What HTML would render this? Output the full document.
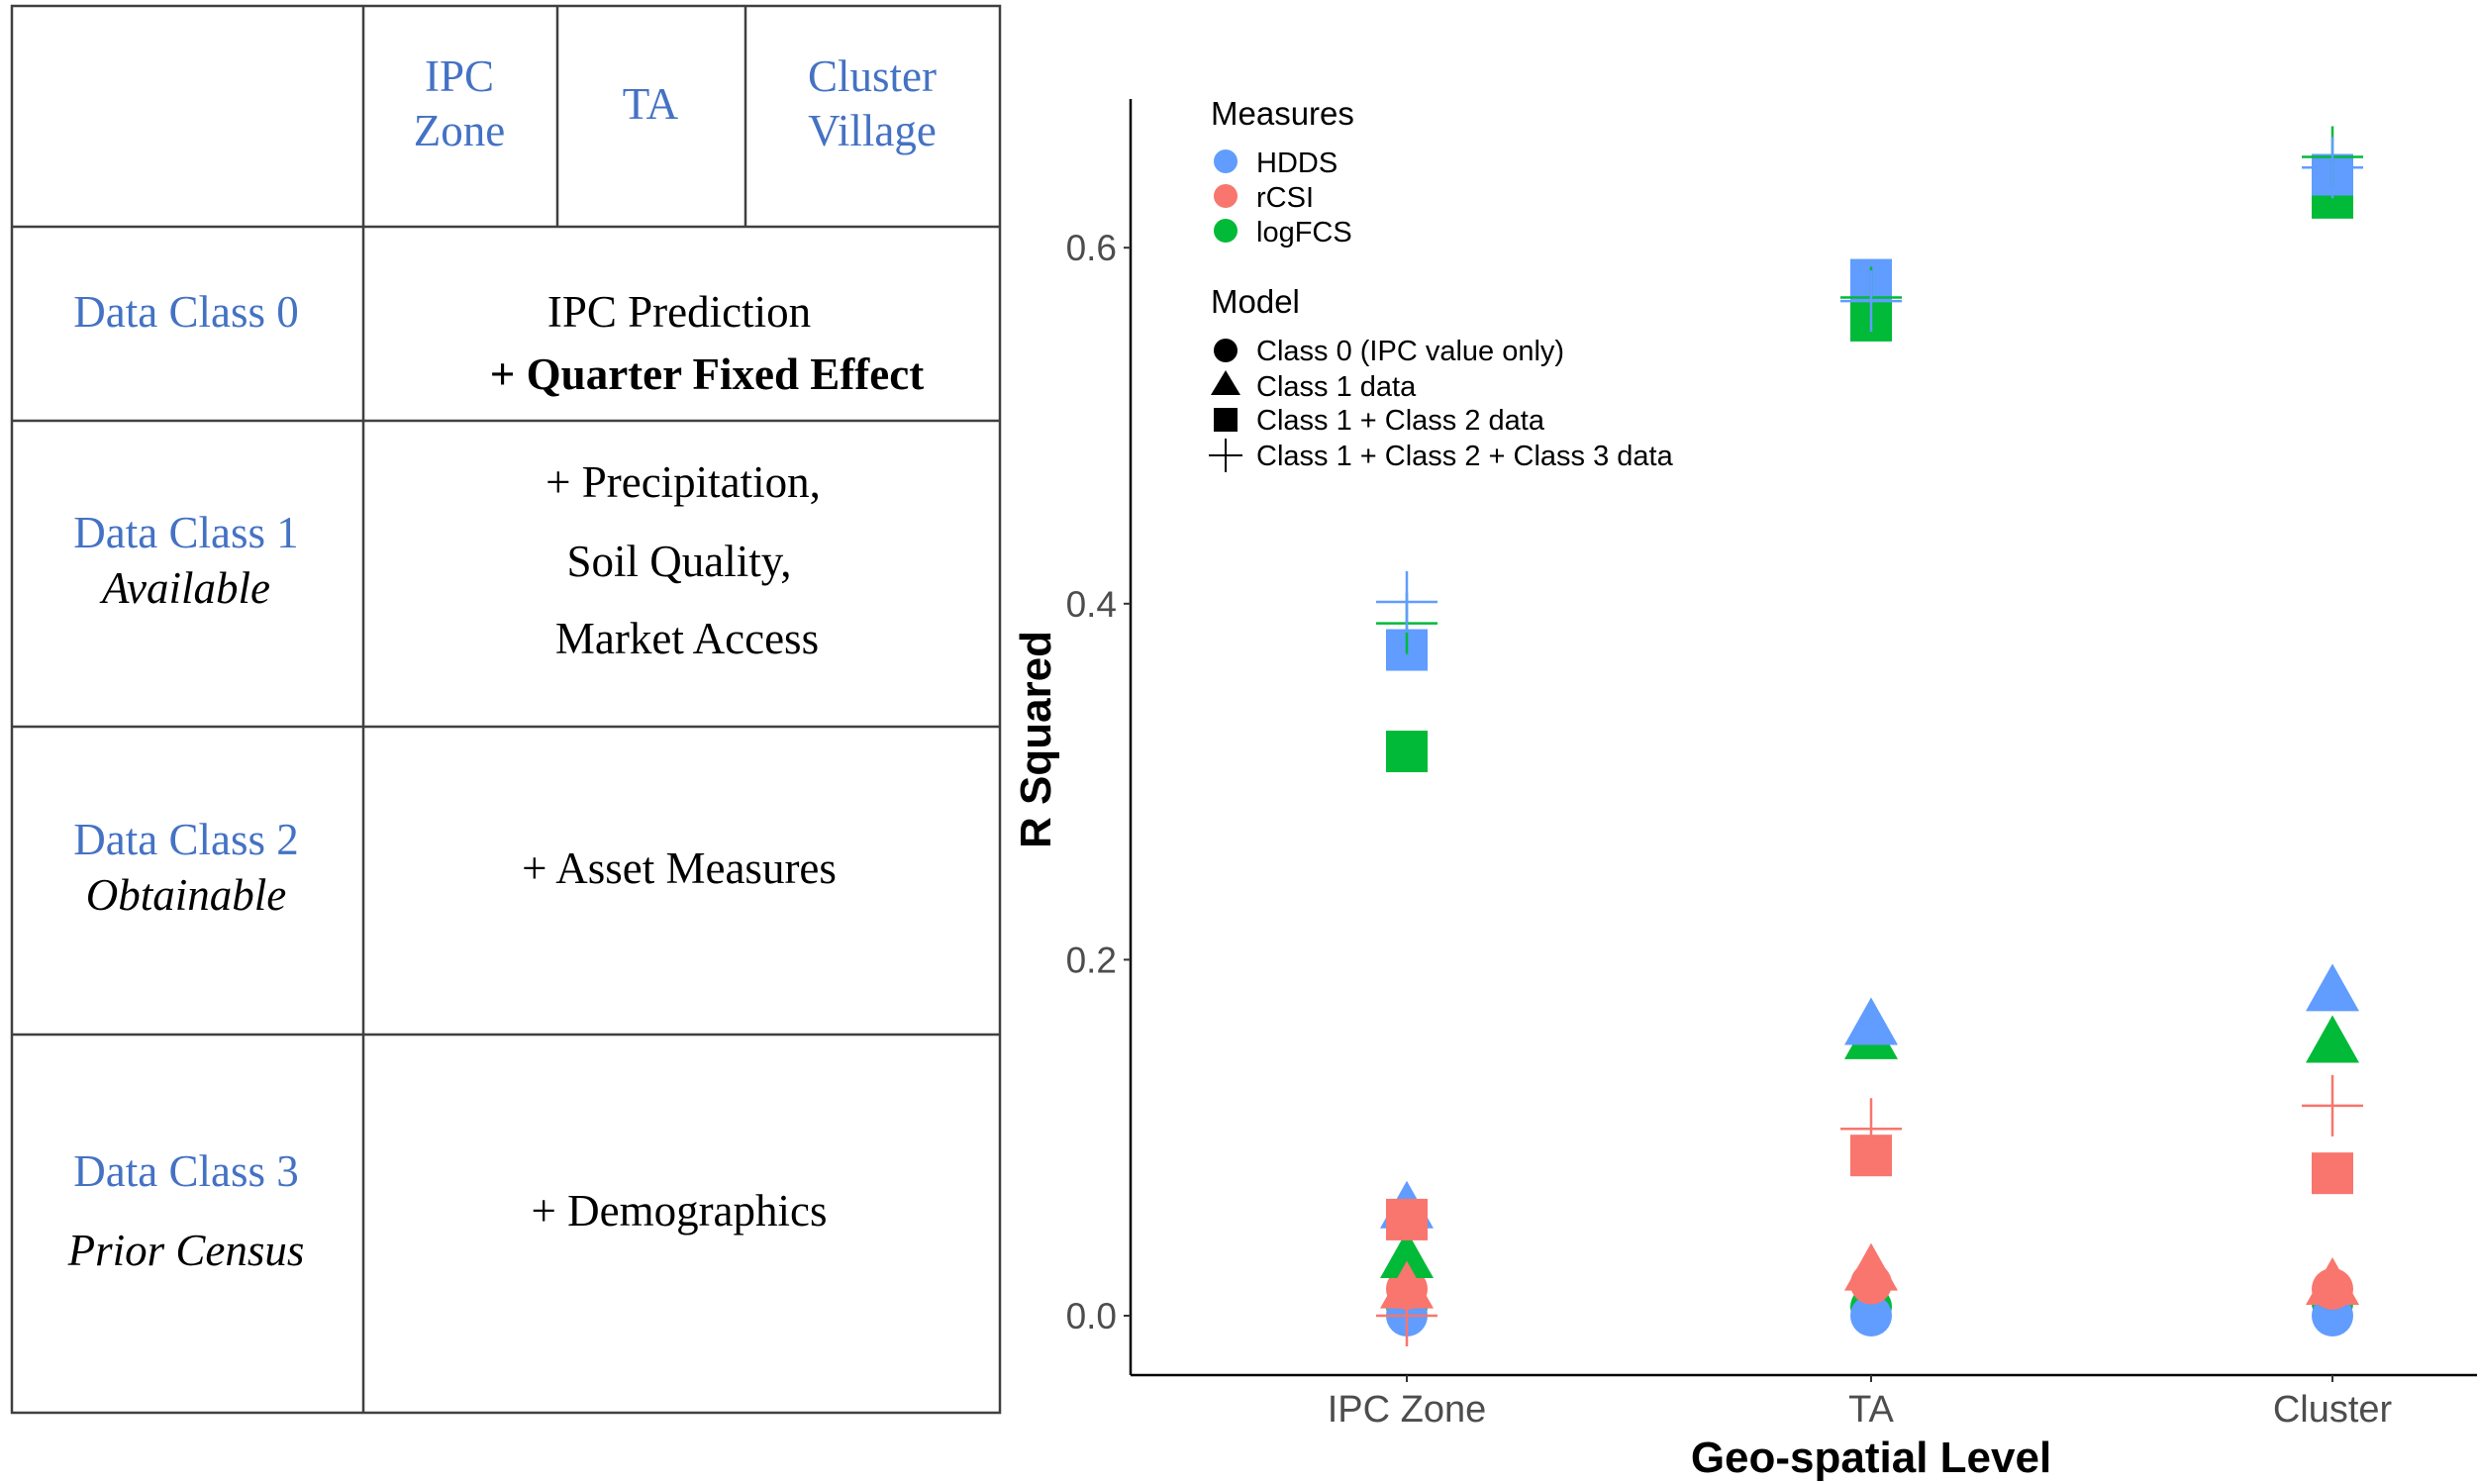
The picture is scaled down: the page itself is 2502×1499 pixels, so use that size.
<!DOCTYPE html>
<html><head><meta charset="utf-8"><style>
html,body{margin:0;padding:0;background:#fff;}
svg{display:block;}
.ser{font-family:"Liberation Serif",serif;font-size:45px;}
.blue{fill:#4472c4;}
.san{font-family:"Liberation Sans",sans-serif;}
</style></head><body>
<svg width="2502" height="1499" viewBox="0 0 2502 1499" xmlns="http://www.w3.org/2000/svg">
<g stroke="#404040" stroke-width="2.5" fill="none">
  <rect x="12" y="6" width="998" height="1421"/>
  <line x1="367" y1="6" x2="367" y2="1427"/>
  <line x1="563" y1="6" x2="563" y2="229"/>
  <line x1="753" y1="6" x2="753" y2="229"/>
  <line x1="12" y1="229" x2="1010" y2="229"/>
  <line x1="12" y1="425" x2="1010" y2="425"/>
  <line x1="12" y1="734" x2="1010" y2="734"/>
  <line x1="12" y1="1045" x2="1010" y2="1045"/>
</g>
<g class="ser" text-anchor="middle">
  <text class="blue" x="464" y="92">IPC</text>
  <text class="blue" x="464" y="147">Zone</text>
  <text class="blue" x="657" y="120">TA</text>
  <text class="blue" x="881" y="92">Cluster</text>
  <text class="blue" x="881" y="147">Village</text>
  <text class="blue" x="188" y="330">Data Class 0</text>
  <text x="686" y="330">IPC Prediction</text>
  <text x="714" y="393" font-weight="bold">+ Quarter  Fixed Effect</text>
  <text class="blue" x="188" y="553">Data Class 1</text>
  <text x="188" y="609" font-style="italic">Available</text>
  <text x="690" y="502">+ Precipitation,</text>
  <text x="686" y="582">Soil Quality,</text>
  <text x="694" y="660">Market Access</text>
  <text class="blue" x="188" y="863">Data Class 2</text>
  <text x="188" y="919" font-style="italic">Obtainable</text>
  <text x="686" y="892">+ Asset Measures</text>
  <text class="blue" x="188" y="1198">Data Class 3</text>
  <text x="188" y="1278" font-style="italic">Prior Census</text>
  <text x="686" y="1238">+ Demographics</text>
</g>
<g id="chart"></g>
</svg>
<script>
const categories = ["IPC Zone", "TA", "Cluster"];
const measures = ["logFCS", "HDDS", "rCSI"];
const models = ["circle", "triangle", "square", "cross"];
const circleHDDS = [0.0, 0.0, 0.0];
const circleLogFCS = [0.005, 0.005, 0.007];
const circleRCSI = [0.015, 0.018, 0.015];
const triHDDS = [0.058, 0.161, 0.18];
const triLogFCS = [0.03, 0.153, 0.151];
const triRCSI = [0.013, 0.023, 0.015];
const sqHDDS = [0.374, 0.582, 0.641];
const sqLogFCS = [0.317, 0.559, 0.628];
const sqRCSI = [0.054, 0.09, 0.08];
const crHDDS = [0.401, 0.570, 0.645];
const crLogFCS = [0.389, 0.572, 0.651];
const crRCSI = [0.0, 0.105, 0.118];
const yTicks = [0.0, 0.2, 0.4, 0.6];
const yTickLabels = ["0.0", "0.2", "0.4", "0.6"];

const series = {
  circle: {logFCS: circleLogFCS, HDDS: circleHDDS, rCSI: circleRCSI},
  triangle: {logFCS: triLogFCS, HDDS: triHDDS, rCSI: triRCSI},
  square: {logFCS: sqLogFCS, HDDS: sqHDDS, rCSI: sqRCSI},
  cross: {logFCS: crLogFCS, HDDS: crHDDS, rCSI: crRCSI}
};
const colors = {HDDS: "#619CFF", rCSI: "#F8766D", logFCS: "#00BA38"};
const NS = "http://www.w3.org/2000/svg";
const g = document.getElementById("chart");
const X0 = 1142, XB = 1389, YTOP = 100;
function yScale(v){ return 1329 - v * 1798; }
function xScale(i){ return [1421, 1890, 2356][i]; }
function mk(tag, attrs, parent){
  const e = document.createElementNS(NS, tag);
  for (const k in attrs) e.setAttribute(k, attrs[k]);
  (parent || g).appendChild(e);
  return e;
}
let ax = mk("line", {x1: X0, y1: YTOP, x2: X0, y2: XB, stroke: "#000", "stroke-width": 2.5});


ax = mk("line", {x1: X0, y1: XB, x2: 2502, y2: XB, stroke: "#000", "stroke-width": 2.5});


yTicks.forEach((v, i) => {
  const y = yScale(v);
  const t = mk("line", {x1: X0 - 7, y1: y, x2: X0, y2: y, stroke: "#333", "stroke-width": 2});
  
  
  const l = mk("text", {x: X0 - 14, y: y + 13, "text-anchor": "end", class: "san", "font-size": 37, fill: "#4d4d4d"});
  l.textContent = yTickLabels[i];
  
  
});
categories.forEach((c, i) => {
  const x = xScale(i);
  const t = mk("line", {x1: x, y1: XB, x2: x, y2: XB + 7, stroke: "#333", "stroke-width": 2});
  
  
  const l = mk("text", {x: x, y: 1436, "text-anchor": "middle", class: "san", "font-size": 38, fill: "#4d4d4d"});
  l.textContent = c;
  
  
});
let tt = mk("text", {x: 1890, y: 1487, "text-anchor": "middle", class: "san", "font-size": 44, "font-weight": "bold"});
tt.textContent = "Geo-spatial Level";


tt = mk("text", {x: 0, y: 0, "text-anchor": "middle", class: "san", "font-size": 44, "font-weight": "bold", transform: "translate(1061,747) rotate(-90)"});
tt.textContent = "R Squared";



function marker(shape, cx, cy, col, parent){
  let e;
  if (shape === "circle") e = mk("circle", {cx: cx, cy: cy, r: 21, fill: col}, parent);
  else if (shape === "triangle") e = mk("polygon", {points: `${cx},${cy-32} ${cx-27},${cy+16} ${cx+27},${cy+16}`, fill: col}, parent);
  else if (shape === "square") e = mk("rect", {x: cx - 21, y: cy - 21, width: 42, height: 42, fill: col}, parent);
  else e = mk("path", {d: `M${cx-31},${cy}H${cx+31}M${cx},${cy-31}V${cy+31}`, stroke: col, "stroke-width": 2.5, fill: "none"}, parent);
  return e;
}
models.forEach(shape => {
  measures.forEach(m => {
    series[shape][m].forEach((v, i) => {
      const e = marker(shape, xScale(i), yScale(v), colors[m]);
      
      
    });
  });
});
const lg = mk("g", {});


function ltxt(x, y, s, size, name){
  const t = mk("text", {x: x, y: y, class: "san", "font-size": size, fill: "#000"}, lg);
  t.textContent = s;
  
  
}
ltxt(1223, 126, "Measures", 33, "legend-title-measures");
[["HDDS", 164], ["rCSI", 199], ["logFCS", 234]].forEach(([m, y]) => {
  const c = mk("circle", {cx: 1238, cy: y - 1, r: 12, fill: colors[m]}, lg);
  
  
  ltxt(1269, y + 10, m, 29, "legend-entry");
});
ltxt(1223, 316, "Model", 33, "legend-title-model");
[["circle", 354, "Class 0 (IPC value only)"], ["triangle", 390, "Class 1 data"], ["square", 424, "Class 1 + Class 2 data"], ["cross", 460, "Class 1 + Class 2 + Class 3 data"]].forEach(([s, y, label]) => {
  let k;
  if (s === "circle") k = mk("circle", {cx: 1238, cy: y, r: 12, fill: "#000"}, lg);
  else if (s === "triangle") k = mk("polygon", {points: `1238,${y-16} 1223,${y+9} 1253,${y+9}`, fill: "#000"}, lg);
  else if (s === "square") k = mk("rect", {x: 1226, y: y - 12, width: 24, height: 24, fill: "#000"}, lg);
  else k = mk("path", {d: `M1221,${y}H1255M1238,${y-17}V${y+17}`, stroke: "#000", "stroke-width": 2}, lg);
  
  
  ltxt(1269, y + 10, label, 29, "legend-entry");
});
</script>
</body></html>
